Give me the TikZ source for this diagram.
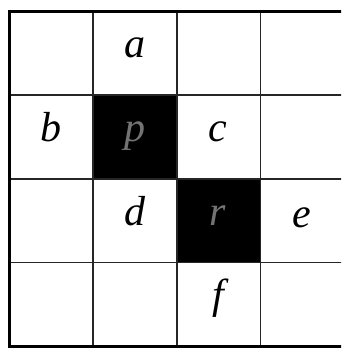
\documentclass[tikz,border=0pt]{standalone}
\usepackage{fontspec}
\setmainfont{Liberation Serif}[ItalicFont={Liberation Serif Italic}]
\begin{document}
\begin{tikzpicture}[x=1pt,y=-1pt,
  lbl/.style={anchor=base,inner sep=0pt,font=\fontsize{42}{42}\selectfont\itshape},
  ghost/.style={lbl,text=black!55},
  gridline/.style={line width=1.5pt,black!85},
  border/.style={line width=3pt,black}]
\useasboundingbox (0,0) rectangle (341,349);
\clip (0,0) rectangle (341,349);
\fill[white] (0,0) rectangle (341,349);
% black cells
\fill[black] (93.1,95.1) rectangle (176.75,178.75);
\fill[black] (176.75,178.75) rectangle (260.4,262.4);
% inner grid lines
\foreach \x in {93.1,176.75,260.4} \draw[gridline] (\x,11.5) -- (\x,346);
\foreach \y in {95.1,178.75,262.4} \draw[gridline] (9.5,\y) -- (344,\y);
% outer border
\draw[border] (9.5,11.5) rectangle (344,346);
% labels
\node[lbl] (a) at (135,57) {a};
\node[lbl] (b) at (51,141) {b};
\node[ghost] (p) at (135,141) {p};
\node[lbl] (c) at (218,141) {c};
\node[lbl] (d) at (135,225) {d};
\node[ghost] (r) at (218,225) {r};
\node[lbl] (e) at (302,227) {e};
\node[lbl] (f) at (218,308) {f};
\end{tikzpicture}
\end{document}
